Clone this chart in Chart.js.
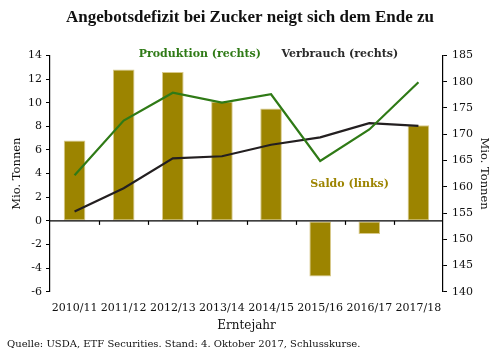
<!DOCTYPE html>
<html><head><meta charset="utf-8">
<script src="https://cdn.jsdelivr.net/npm/chart.js@4.4.0/dist/chart.umd.min.js"></script>
<style>html,body{margin:0;padding:0;background:#fff}#wrap{width:500px;height:353px;position:relative}</style>
</head><body><div id="wrap"><canvas id="c" width="500" height="353"></canvas></div>
<script>
const categories = ['2010/11','2011/12','2012/13','2013/14','2014/15','2015/16','2016/17','2017/18'];
const saldo = [6.8, 12.8, 12.6, 10.1, 9.5, -4.7, -1.1, 8.1];
const produktion = [162.2, 172.6, 177.9, 176.0, 177.6, 164.9, 170.9, 179.9];
const verbrauch = [155.3, 159.7, 165.4, 165.8, 168.0, 169.4, 172.1, 171.6];
const leftTicks = [14,12,10,8,6,4,2,0,-2,-4,-6];
const rightTicks = [185,180,175,170,165,160,155,150,145,140];

const FONT = "'DejaVu Serif', Georgia, serif";
const OLIVE = '#9C8400', GREEN = '#2F7A16', DARK = '#231F20';

const overlay = {
  id: 'overlay',
  afterDatasetsDraw(chart) {
    const ctx = chart.ctx, x = chart.scales.x, yl = chart.scales.yL, yr = chart.scales.yR;
    const y0 = yl.getPixelForValue(0);
    ctx.save();
    ctx.strokeStyle = '#000'; ctx.lineWidth = 1.2;
    ctx.beginPath(); ctx.moveTo(chart.chartArea.left, y0); ctx.lineTo(chart.chartArea.right, y0); ctx.stroke();
    for (let i = 1; i < categories.length; i++) {
      const px = Math.round((x.getPixelForValue(i - 1) + x.getPixelForValue(i)) / 2) + 0.5;
      ctx.beginPath(); ctx.moveTo(px, y0); ctx.lineTo(px, y0 + 4); ctx.stroke();
    }
    ctx.font = "bold 11px " + FONT;
    ctx.textAlign = 'center'; ctx.textBaseline = 'middle';
    ctx.fillStyle = GREEN;
    ctx.fillText('Produktion (rechts)', x.getPixelForValue(2.55), yr.getPixelForValue(185.2));
    ctx.fillStyle = '#2a2a2a';
    ctx.fillText('Verbrauch (rechts)', x.getPixelForValue(5.4), yr.getPixelForValue(185.2));
    ctx.fillStyle = OLIVE;
    ctx.fillText('Saldo (links)', x.getPixelForValue(5.6), yl.getPixelForValue(3.1));
    ctx.restore();
  },
  afterDraw(chart) {
    const ctx = chart.ctx, a = chart.chartArea;
    ctx.save();
    ctx.fillStyle = '#111'; ctx.textBaseline = 'middle';
    ctx.font = "12px " + FONT; ctx.textAlign = 'center';
    ctx.fillText('Erntejahr', (a.left + a.right) / 2, 326);
    ctx.font = "10px " + FONT; ctx.textAlign = 'left';
    ctx.fillText('Quelle: USDA, ETF Securities. Stand: 4. Oktober 2017, Schlusskurse.', 7, 344);
    ctx.restore();
  }
};

new Chart(document.getElementById('c'), {
  data: {
    labels: categories,
    datasets: [
      { type: 'line', label: 'Produktion (rechts)', data: produktion, yAxisID: 'yR', borderColor: GREEN, borderWidth: 2.2, pointRadius: 0, tension: 0, order: 1 },
      { type: 'line', label: 'Verbrauch (rechts)', data: verbrauch, yAxisID: 'yR', borderColor: DARK, borderWidth: 2.2, pointRadius: 0, tension: 0, order: 2 },
      { type: 'bar', label: 'Saldo (links)', data: saldo, yAxisID: 'yL', backgroundColor: OLIVE, borderColor: '#D8C98A', borderWidth: 1, borderSkipped: false, categoryPercentage: 1, barPercentage: 0.44, order: 3 }
    ]
  },
  options: {
    responsive: false, animation: false, devicePixelRatio: 1,
    layout: { padding: { top: 0, bottom: 28, left: 2, right: 2 } },
    plugins: {
      legend: { display: false }, tooltip: { enabled: false },
      title: { display: true, text: 'Angebotsdefizit bei Zucker neigt sich dem Ende zu', color: '#111',
        font: { family: "'Liberation Serif', serif", size: 17, weight: 'bold' }, padding: { top: 7, bottom: 28 } }
    },
    scales: {
      x: { grid: { display: false, drawTicks: false }, border: { display: false },
        ticks: { color: '#111', font: { family: FONT, size: 11 }, padding: 10, maxRotation: 0, autoSkip: false } },
      yL: { position: 'left', min: -6, max: 14,
        afterBuildTicks(s) { s.ticks = leftTicks.map(v => ({ value: v })); },
        afterFit(s) { s.width = 48; },
        grid: { display: true, drawOnChartArea: false, drawTicks: true, tickLength: 4, color: '#000' },
        border: { display: true, color: '#000', width: 1.2 },
        ticks: { color: '#111', font: { family: FONT, size: 11 }, padding: 4 },
        title: { display: true, text: 'Mio. Tonnen', color: '#111', font: { family: FONT, size: 11.5 }, padding: 8 } },
      yR: { position: 'right', min: 140, max: 185,
        afterBuildTicks(s) { s.ticks = rightTicks.map(v => ({ value: v })); },
        afterFit(s) { s.width = 55; },
        grid: { display: true, drawOnChartArea: false, drawTicks: true, tickLength: 4, color: '#000' },
        border: { display: true, color: '#000', width: 1.2 },
        ticks: { color: '#111', font: { family: FONT, size: 11 }, padding: 5 },
        title: { display: true, text: 'Mio. Tonnen', color: '#111', font: { family: FONT, size: 11.5 }, padding: 7 } }
    }
  },
  plugins: [overlay]
});
</script></body></html>
